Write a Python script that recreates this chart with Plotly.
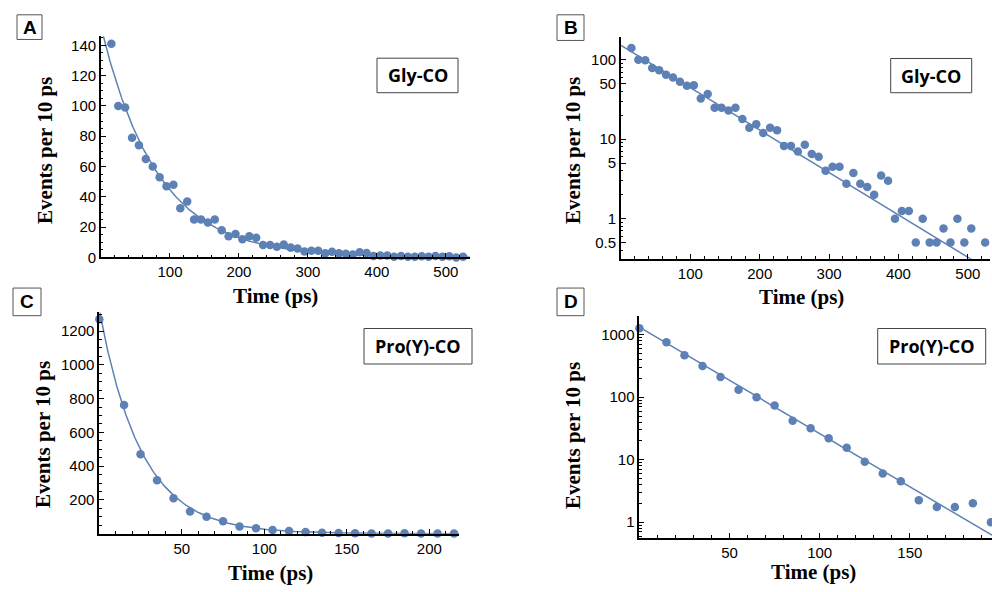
import numpy as np
import plotly.graph_objects as go

W, H = 992, 592

# ---------------- data ----------------
gly_time = [15, 25, 35, 45, 55, 65, 75, 85, 95, 105, 115, 125, 135, 145, 155, 165, 175,
            185, 195, 205, 215, 225, 235, 245, 255, 265, 275, 285, 295, 305, 315, 325,
            335, 345, 355, 365, 375, 385, 395, 405, 415, 425, 435, 445, 455, 465, 475,
            485, 495, 505, 515, 525]
gly_events = [141, 100, 99, 79, 74, 65, 60, 53, 47, 48, 32.5, 37, 25, 25, 23, 25, 18,
              14, 15.5, 12, 14, 13, 8.25, 8.25, 7, 8.5, 6.5, 6, 4, 4.5, 4.5, 2.75,
              3.75, 2.75, 2.5, 2, 3.5, 3, 1, 1.25, 1.25, 0.5, 1, 0.5, 0.5, 0.75, 0.5,
              1, 0.5, 0.75, 0, 0.5]

pro_time = [0, 15, 25, 35, 45, 55, 65, 75, 85, 95, 105, 115, 125, 135, 145, 155, 165,
            175, 185, 195, 205, 215]
pro_events = [1270, 762, 470, 317, 210, 132, 100, 74, 42, 32, 22, 15.5, 9.3, 6, 4.5,
              2.25, 1.75, 1.75, 2, 1, 0.75, 0.5]

# single-exponential fit parameters (amplitude, lifetime in ps)
gly_fit_amp, gly_fit_tau = 152.0, 81.4
pro_fit_amp, pro_fit_tau = 1324.0, 25.5

panel_letters = ["A", "B", "C", "D"]
panel_names = ["Gly-CO", "Gly-CO", "Pro(Y)-CO", "Pro(Y)-CO"]
x_title = "Time (ps)"
y_title = "Events per 10 ps"

# ---------------- styling ----------------
BLUE = "#5E81B5"
TICKFONT = dict(family="Liberation Sans, Arial", size=15, color="black")
TITLEFONT = dict(family="Liberation Serif, Times New Roman", size=21, color="black")

def px(x):
    return x / W

def py(y):
    return 1 - y / H

fig = go.Figure()

# pixel boxes of plot areas: (left, right, top, bottom)
areas = {
    1: (101, 470, 36.7, 261),
    2: (621, 990, 37.3, 262.3),
    3: (99.3, 459, 316.7, 541),
    4: (639.4, 992, 320, 545),
}

datasets = {
    1: (gly_time, gly_events, gly_fit_amp, gly_fit_tau, 535),
    2: (gly_time, gly_events, gly_fit_amp, gly_fit_tau, 532),
    3: (pro_time, pro_events, pro_fit_amp, pro_fit_tau, 218),
    4: (pro_time, pro_events, pro_fit_amp, pro_fit_tau, 195.6),
}

for k in range(1, 5):
    t, ev, amp, tau, xmax = datasets[k]
    xa = "x" if k == 1 else f"x{k}"
    ya = "y" if k == 1 else f"y{k}"
    tf = np.linspace(0, xmax, 400)
    fig.add_trace(go.Scatter(x=tf, y=amp * np.exp(-tf / tau), mode="lines",
                             line=dict(color=BLUE, width=1.5), xaxis=xa, yaxis=ya,
                             hoverinfo="skip"))
    if k in (2, 4):
        pts = [(a, b) for a, b in zip(t, ev) if b > 0]
        tt = [p[0] for p in pts]
        ee = [p[1] for p in pts]
    else:
        tt, ee = t, ev
    fig.add_trace(go.Scatter(x=tt, y=ee, mode="markers",
                             marker=dict(color=BLUE, size=8.5), xaxis=xa, yaxis=ya,
                             cliponaxis=False))

common = dict(showline=True, linecolor="black", linewidth=1.8, ticks="inside",
              tickcolor="black", tickwidth=1.3, ticklen=5, showgrid=False,
              zeroline=False, tickfont=TICKFONT)
MINOR = dict(ticks="inside", ticklen=2.5, tickcolor="black", tickwidth=1)

layout = {}
# A
l, r, t_, b = areas[1]
layout["xaxis"] = dict(domain=[px(l), px(r)], range=[0, 535], anchor="y",
                       tickvals=[100, 200, 300, 400, 500],
                       minor=dict(dtick=20, **MINOR), **common)
layout["yaxis"] = dict(domain=[py(b), py(t_)], range=[0, 146], anchor="x",
                       tickvals=[0, 20, 40, 60, 80, 100, 120, 140],
                       minor=dict(dtick=5, **MINOR), **common)
# B
l, r, t_, b = areas[2]
minor_logB = [v * m for m in (0.1, 1, 10, 100) for v in range(2, 10)] + [0.4]
layout["xaxis2"] = dict(domain=[px(l), px(r)], range=[0, 532], anchor="y2",
                        tickvals=[100, 200, 300, 400, 500],
                        minor=dict(dtick=20, **MINOR), **common)
layout["yaxis2"] = dict(domain=[py(b), py(t_)], type="log", range=[-0.505, 2.29],
                        anchor="x2", tickvals=[0.5, 1, 5, 10, 50, 100],
                        ticktext=["0.5", "1", "5", "10", "50", "100"],
                        minor=dict(tickvals=minor_logB, **MINOR), **common)
# C
l, r, t_, b = areas[3]
layout["xaxis3"] = dict(domain=[px(l), px(r)], range=[0, 218], anchor="y3",
                        tickvals=[50, 100, 150, 200],
                        minor=dict(dtick=10, **MINOR), **common)
layout["yaxis3"] = dict(domain=[py(b), py(t_)], range=[0, 1310], anchor="x3",
                        tickvals=[200, 400, 600, 800, 1000, 1200],
                        minor=dict(dtick=50, **MINOR), **common)
# D
l, r, t_, b = areas[4]
minor_logD = [v * m for m in (0.1, 1, 10, 100, 1000) for v in range(2, 10)]
layout["xaxis4"] = dict(domain=[px(l), min(px(r), 1.0)], range=[0, 195.6], anchor="y4",
                        tickvals=[50, 100, 150],
                        minor=dict(dtick=10, **MINOR), **common)
layout["yaxis4"] = dict(domain=[py(b), py(t_)], type="log", range=[-0.248, 3.306],
                        anchor="x4", tickvals=[1, 10, 100, 1000],
                        ticktext=["1", "10", "100", "1000"],
                        minor=dict(tickvals=minor_logD, **MINOR), **common)

shapes = []
annotations = []

# axis titles (pixel centres)
xt_pos = [(275.7, 300), (801.7, 301), (270, 581), (813, 580)]
yt_pos = [(45, 153), (573, 153), (43, 441), (573, 442)]
for (x, y) in xt_pos:
    annotations.append(dict(x=px(x), y=py(y), xref="paper", yref="paper",
                            text=f"<b>{x_title}</b>", showarrow=False,
                            font=TITLEFONT, xanchor="center", yanchor="middle"))
for (x, y) in yt_pos:
    annotations.append(dict(x=px(x), y=py(y), xref="paper", yref="paper",
                            text=f"<b>{y_title}</b>", showarrow=False, textangle=-90,
                            font=TITLEFONT, xanchor="center", yanchor="middle"))

# panel letter boxes
letter_boxes = [(17, 42, 15, 40), (557, 584, 15, 41), (13, 41, 292, 320), (557, 584, 292, 320)]
for letter, (x0, x1, y0, y1) in zip(panel_letters, letter_boxes):
    shapes.append(dict(type="rect", xref="paper", yref="paper", x0=px(x0), x1=px(x1),
                       y0=py(y1), y1=py(y0), line=dict(color="#555555", width=1),
                       fillcolor="white"))
    annotations.append(dict(x=px((x0 + x1) / 2), y=py((y0 + y1) / 2), xref="paper",
                            yref="paper", text=f"<b>{letter}</b>", showarrow=False,
                            font=dict(family="Liberation Sans, Arial", size=19, color="black"),
                            xanchor="center", yanchor="middle"))

# sample name boxes
name_boxes = [(377, 458, 59, 94), (890.7, 971.7, 59.3, 94), (364, 472, 333, 369),
              (877.7, 985.7, 333, 369)]
for name, (x0, x1, y0, y1) in zip(panel_names, name_boxes):
    shapes.append(dict(type="rect", xref="paper", yref="paper", x0=px(x0), x1=px(x1),
                       y0=py(y1), y1=py(y0), line=dict(color="#444444", width=1),
                       fillcolor="white"))
    annotations.append(dict(x=px((x0 + x1) / 2), y=py((y0 + y1) / 2), xref="paper",
                            yref="paper", text=f"<b>{name}</b>", showarrow=False,
                            font=dict(family="Open Sans, Noto Sans", size=18, color="black"),
                            xanchor="center", yanchor="middle"))

fig.update_layout(width=W, height=H, margin=dict(l=0, r=0, t=0, b=0),
                  paper_bgcolor="white", plot_bgcolor="white", showlegend=False,
                  shapes=shapes, annotations=annotations, **layout)

fig.write_html("out.html")
